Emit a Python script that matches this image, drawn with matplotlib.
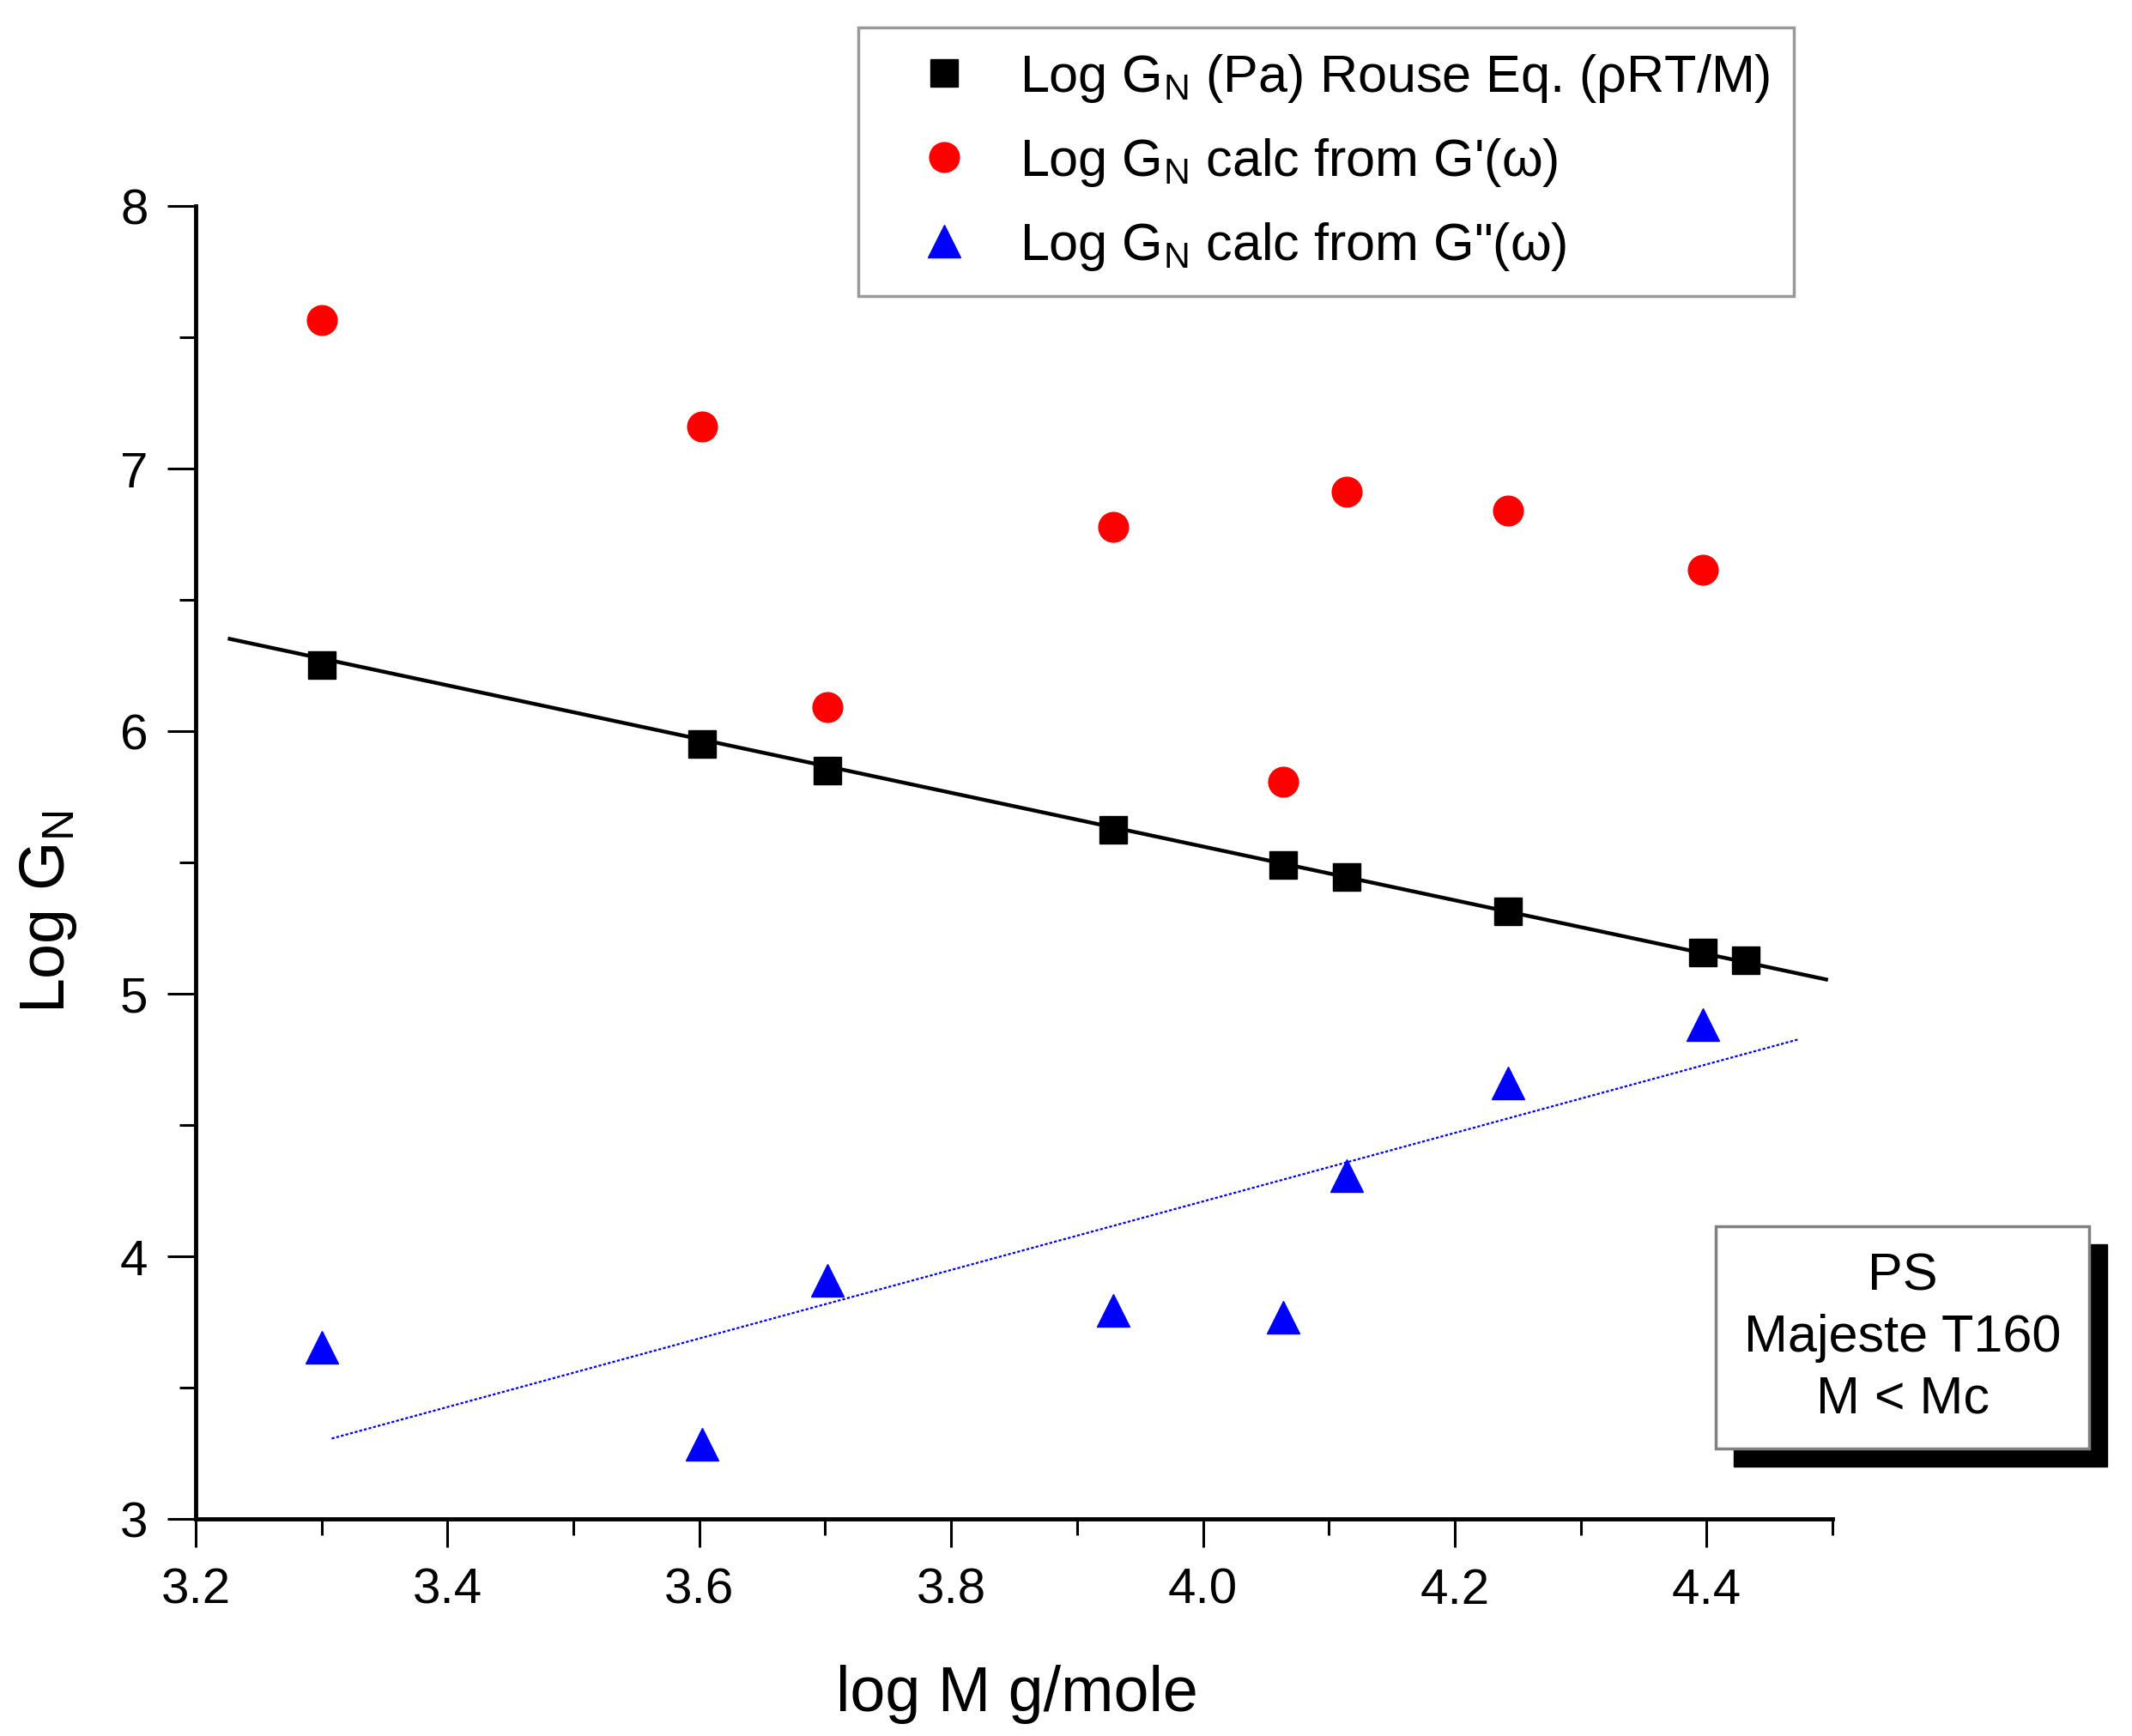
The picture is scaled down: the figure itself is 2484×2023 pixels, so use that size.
import matplotlib
matplotlib.use("Agg")
import matplotlib.pyplot as plt
from matplotlib.patches import Rectangle
from matplotlib.ticker import MultipleLocator, FormatStrFormatter

plt.rcParams['font.family'] = ['Liberation Sans', 'DejaVu Sans']
plt.rcParams['mathtext.default'] = 'regular'

# log M values (same molecular weights for all three series)
log_m = [3.300, 3.602, 3.702, 3.929, 4.064, 4.114, 4.242, 4.397]
log_m_rouse = log_m + [4.431]

# Log GN from Rouse eq. (rho RT / M)
gn_rouse = [6.25, 5.95, 5.85, 5.625, 5.49, 5.443, 5.313, 5.158, 5.127]
# Log GN calc from G'(w)
gn_gprime = [7.564, 7.16, 6.091, 6.776, 5.806, 6.911, 6.838, 6.615]
# Log GN calc from G''(w)
gn_gdprime = [3.654, 3.285, 3.908, 3.794, 3.768, 4.307, 4.660, 4.883]

# fit lines (end points)
rouse_fit_x = [3.227, 4.495]
rouse_fit_y = [6.351, 5.054]
gdp_fit_x = [3.308, 4.473]
gdp_fit_y = [3.306, 4.826]

fig = plt.figure(figsize=(24.84, 20.24), dpi=100)
ax = fig.add_axes([0.0918, 0.125, 0.7677, 0.756])

ax.plot(rouse_fit_x, rouse_fit_y, color='black', lw=3.2, zorder=2)
ax.plot(gdp_fit_x, gdp_fit_y, color='blue', lw=1.6, ls=(0, (1.5, 1)), zorder=2)

ax.plot(log_m_rouse, gn_rouse, 's', color='black', ms=23, ls='none', zorder=3,
        label='Log G$_N$ (Pa) Rouse Eq. (ρRT/M)')
ax.plot(log_m, gn_gprime, 'o', color='red', ms=25, ls='none', zorder=3,
        label="Log G$_N$ calc from G'(ω)")
ax.plot(log_m, gn_gdprime, '^', color='blue', ms=28, ls='none', zorder=3,
        label='Log G$_N$ calc from G"(ω)')

ax.set_xlim(3.2, 4.5)
ax.set_ylim(3, 8)
ax.xaxis.set_major_locator(MultipleLocator(0.2))
ax.xaxis.set_minor_locator(MultipleLocator(0.1))
ax.xaxis.set_major_formatter(FormatStrFormatter('%.1f'))
ax.yaxis.set_major_locator(MultipleLocator(1))
ax.yaxis.set_minor_locator(MultipleLocator(0.5))

for s in ['top', 'right']:
    ax.spines[s].set_visible(False)
for s in ['left', 'bottom']:
    ax.spines[s].set_linewidth(3.5)

ax.tick_params(which='major', direction='out', length=24, width=2.2,
               labelsize=42, pad=16)
ax.tick_params(which='minor', direction='out', length=14, width=2.2)

ax.text(-0.09, 0.463, 'Log G$_N$', transform=ax.transAxes, rotation=90,
        ha='center', va='center', fontsize=53)
ax.text(0.502, -0.133, 'log M g/mole', transform=ax.transAxes,
        ha='center', va='center', fontsize=53)

leg = ax.legend(loc='upper left', bbox_to_anchor=(0.4025, 0.9835),
                bbox_transform=fig.transFigure, borderaxespad=0,
                fontsize=44, frameon=True, fancybox=False, shadow=False,
                borderpad=0.45, handlelength=2.38, handletextpad=0.25,
                labelspacing=0.61, numpoints=1)
leg.get_frame().set_edgecolor('#808080')
leg.get_frame().set_linewidth(2.5)

# annotation box with shadow
bx, by, bw, bh = 0.8048, 0.1655, 0.1751, 0.128
fig.patches.append(Rectangle((bx + 0.0085, by - 0.0104), bw, bh,
                             transform=fig.transFigure, facecolor='black',
                             edgecolor='black', zorder=5))
fig.patches.append(Rectangle((bx, by), bw, bh, transform=fig.transFigure,
                             facecolor='white', edgecolor='#808080', lw=2.5,
                             zorder=6))
fig.text(bx + bw / 2, by + bh / 2, 'PS\nMajeste T160\nM < Mc', ha='center',
         va='center', fontsize=44, linespacing=1.33, zorder=7)

fig.savefig('out.png', dpi=100)
